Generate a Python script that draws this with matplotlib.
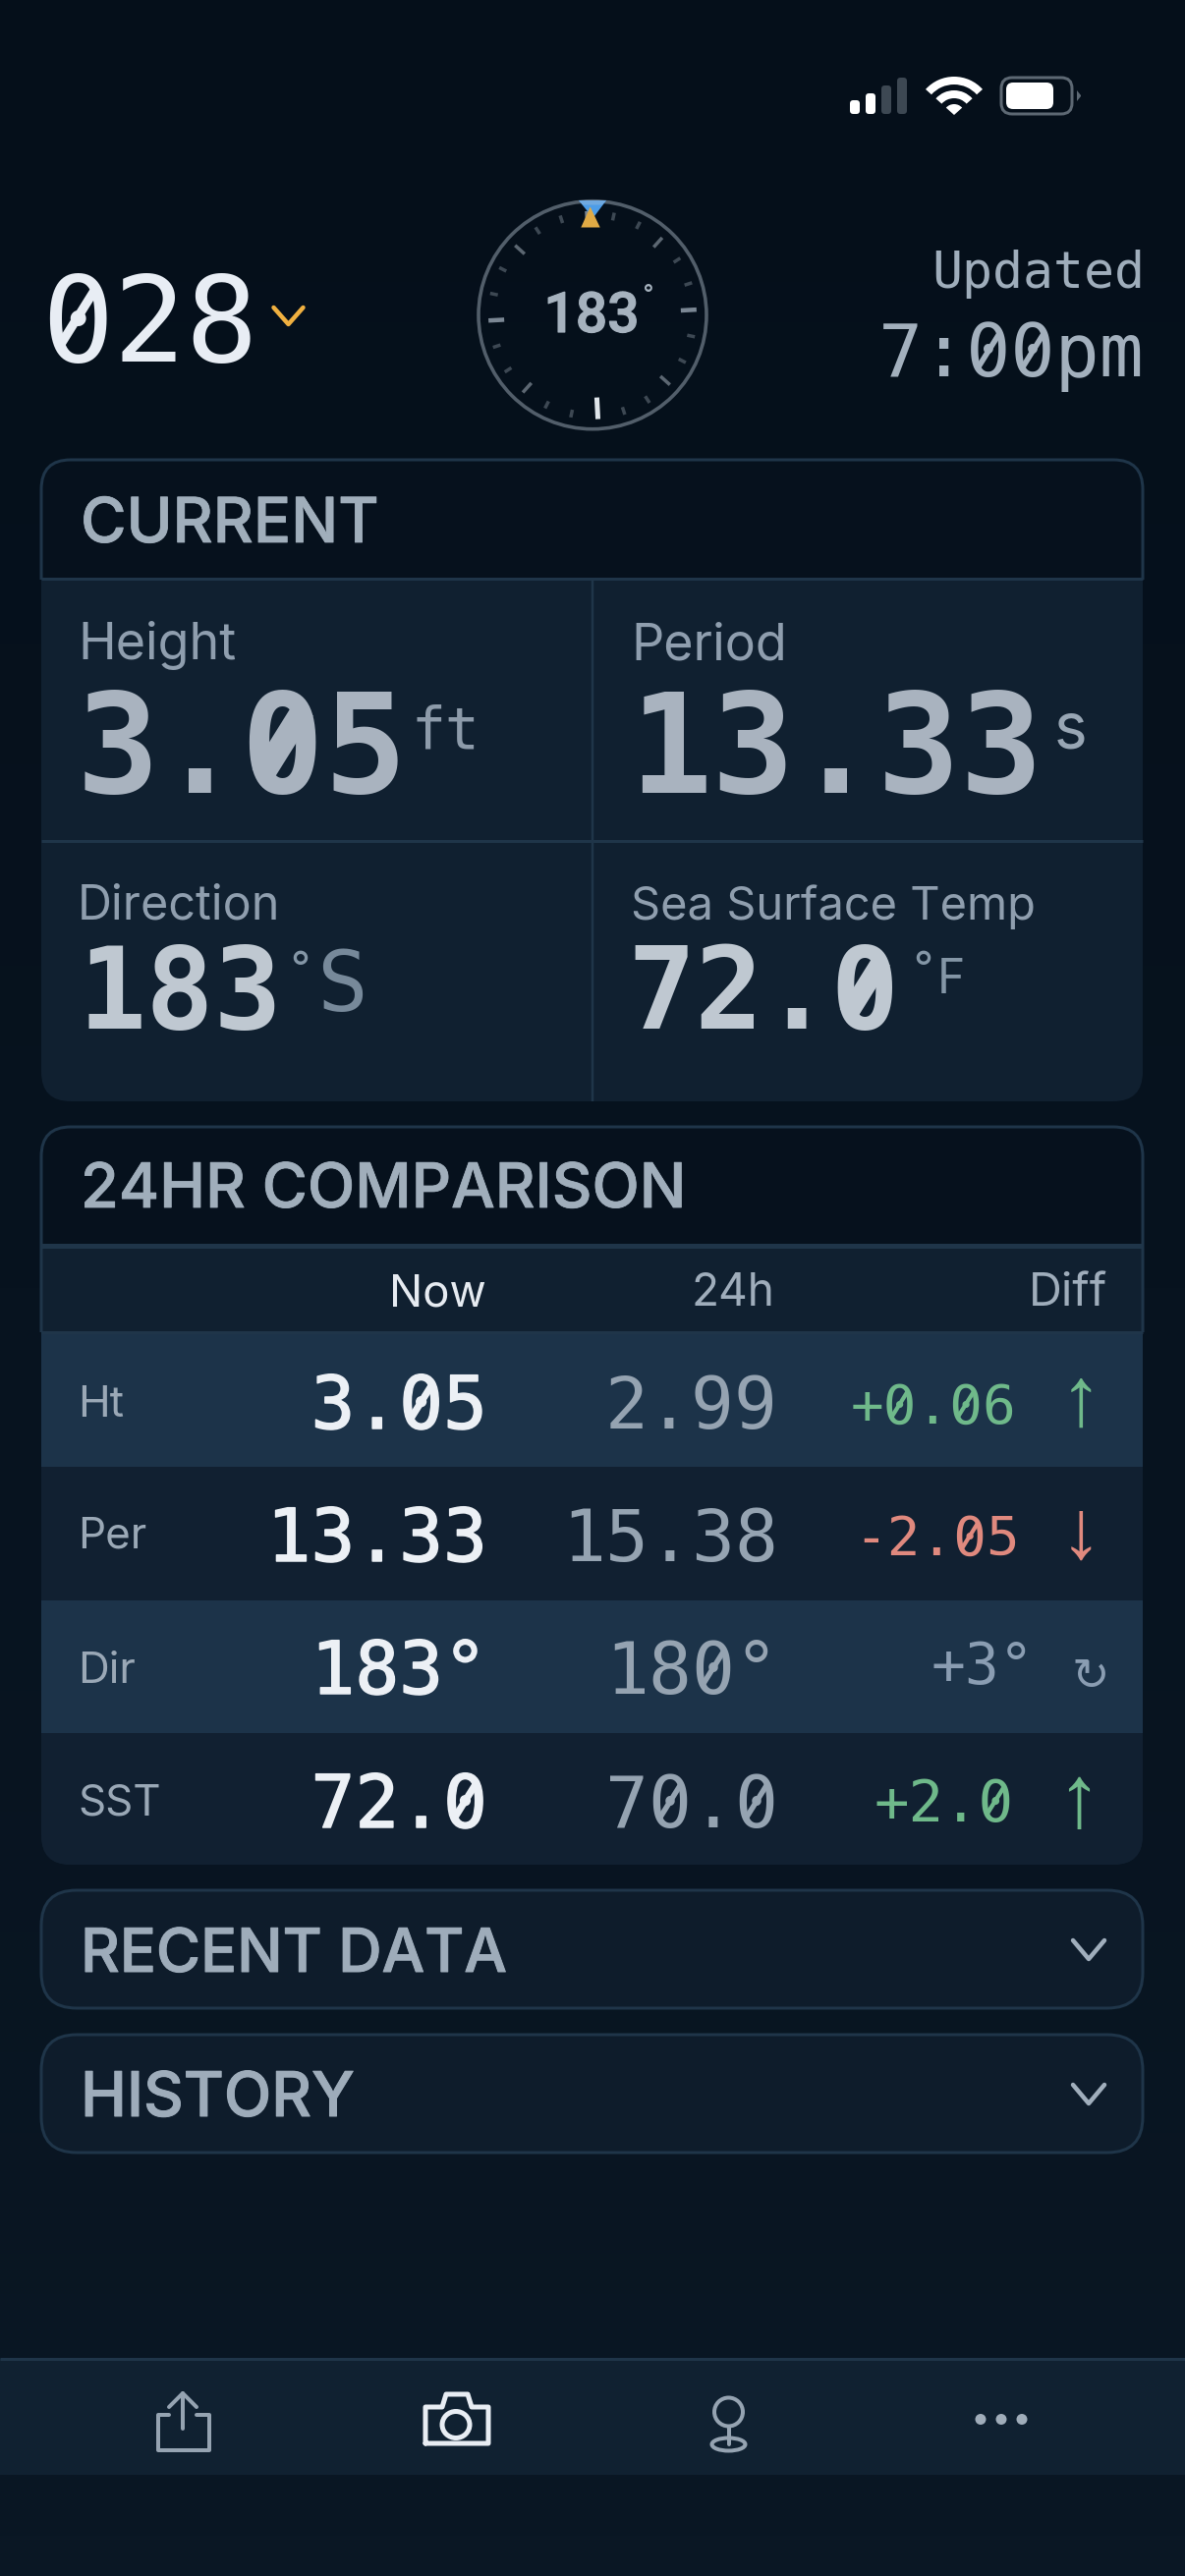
import numpy as np
from matplotlib import pyplot as plt
from matplotlib.colors import LinearSegmentedColormap
from matplotlib.patches import Circle, Ellipse, FancyBboxPatch, Polygon, Rectangle, Wedge
import matplotlib.patheffects as pe

# values
station = "028"
direction_deg = 183
updated_label = "Updated"
updated_time = "7:00pm"

current_labels = ["Height", "Period", "Direction", "Sea Surface Temp"]
current_values = ["3.05", "13.33", "183", "72.0"]
current_units = ["ft", "s", "S", "F"]

row_labels = ["Ht", "Per", "Dir", "SST"]
now_values = ["3.05", "13.33", "183°", "72.0"]
prev_values = ["2.99", "15.38", "180°", "70.0"]
diff_values = ["+0.06", "-2.05", "+3°", "+2.0"]
diff_icons = ["↑", "↓", "↻", "↑"]
col_labels = ["Now", "24h", "Diff"]
collapsed = ["RECENT DATA", "HISTORY"]

compass_steps = np.arange(0, 360, 15)

SANS = "Inter"
MONO = "DejaVu Sans Mono"
ADVANCE = 0.602
BORDER = "#1f3549"
CARD = "#102030"
HEADER = "#06111d"
GREEN = "#6fb98a"
RED = "#e0897e"
GREY = "#95a3b1"

fig = plt.figure(figsize=(12.06, 26.22), dpi=100)
ax = fig.add_axes([0, 0, 1, 1])
ax.axis("off")

bg = LinearSegmentedColormap.from_list("bg", ["#050f1a", "#07131f", "#0a1724"])
ax.imshow(np.linspace(0, 1, 64).reshape(-1, 1), cmap=bg, aspect="auto",
          extent=(0, 1206, 2622, 0), zorder=0)
ax.set_xlim(0, 1206)
ax.set_ylim(2622, 0)


def txt(x, y, s, px, color, ha="left", family=SANS, weight="normal", thick=0, z=5):
    t = ax.text(x, y, s, fontsize=px * 0.72, color=color, ha=ha, va="baseline",
                family=family, weight=weight, zorder=z)
    if thick:
        t.set_path_effects([pe.withStroke(linewidth=thick * 0.72, foreground=color)])
    if family == MONO:
        # the reference face has a slashed zero, dejavu only a dot
        x0 = x - len(s) * ADVANCE * px if ha == "right" else x
        stroke = 0.17 * px if weight == "bold" else 0.075 * px + thick
        for i, ch in enumerate(s):
            if ch == "0":
                gx = x0 + (i + 0.5) * ADVANCE * px
                gy = y - 0.365 * px
                ax.plot([gx - 0.15 * px, gx + 0.15 * px], [gy + 0.24 * px, gy - 0.24 * px],
                        color=color, lw=stroke * 0.72, zorder=z, solid_capstyle="butt")
    return t


def box(x0, y0, x1, y1, r, fc, ec="none", lw=0, z=2):
    p = FancyBboxPatch((x0, y0), x1 - x0, y1 - y0, boxstyle=f"round,pad=0,rounding_size={r}",
                       fc=fc, ec=ec, lw=lw * 0.72, zorder=z)
    ax.add_patch(p)
    return p


def line(xs, ys, color, lw, z=4, cap="round"):
    ax.plot(xs, ys, color=color, lw=lw * 0.72, zorder=z, solid_capstyle=cap,
            solid_joinstyle="round")


def band(card, y0, y1, color, z=3):
    r = Rectangle((42, y0), 1121, y1 - y0, fc=color, ec="none", zorder=z)
    ax.add_patch(r)
    r.set_clip_path(card)


def chevron(cx, y0, y1, half, color, lw):
    line([cx - half, cx, cx + half], [y0, y1, y0], color, lw)


# status bar
for x0, top, col in zip([865, 881, 897, 913], [102, 95, 87, 79],
                        ["#ffffff", "#ffffff", "#3d4853", "#3d4853"]):
    box(x0, top, x0 + 10, 116, 3.5, col)
for r, w in [(39, 8), (25, 8), (11, 11)]:
    ax.add_patch(Wedge((971, 117), r, 222, 318, width=w, fc="white", ec="none", zorder=4))
box(1019, 79, 1091, 116, 11, "none", "#5d6873", 3)
box(1024, 84, 1072, 111, 7, "white", z=4)
ax.add_patch(Polygon([(1096, 92), (1100, 97), (1100, 98), (1096, 103)], fc="#5d6873", ec="none", zorder=4))

# header row
txt(42, 368, station, 122, "#e8edf4", family=MONO)
chevron(293.5, 313, 330, 15, "#f0b040", 4.5)
txt(1165, 293, updated_label, 51.5, "#9fadbb", ha="right", family=MONO)
txt(1165, 383, updated_time, 75, "#a3b0bd", ha="right", family=MONO)

# compass
cx, cy = 603, 320.7
ax.add_patch(Circle((cx, cy), 116, fc="none", ec="#525e6a", lw=3.6 * 0.72, zorder=3))
for step in compass_steps:
    a = np.radians(step - direction_deg)
    if step == 0:
        r0, r1, col, lw = 84, 106, "#dfe5ea", 5
    elif step % 90 == 0:
        r0, r1, col, lw = 90, 106, "#7b8794", 4.5
    elif step % 45 == 0:
        r0, r1, col, lw = 93, 106, "#5c6772", 3.5
    else:
        r0, r1, col, lw = 98.5, 106.5, "#3d4853", 3.5
    line([cx + r0 * np.sin(a), cx + r1 * np.sin(a)],
         [cy - r0 * np.cos(a), cy - r1 * np.cos(a)], col, lw, cap="butt")
ax.add_patch(Polygon([(cx - 14, 204), (cx + 14, 204), (cx + 0.5, 222)], fc="#4d9de8", ec="none", zorder=5))
ax.add_patch(Polygon([(cx - 14, 204), (cx + 14, 204), (cx + 10, 208.5), (cx - 10, 208.5)], fc="#6fa9e0", ec="none", zorder=5))
ax.add_patch(Polygon([(cx - 2.3, 210.5), (cx + 7.7, 231.5), (cx - 11.7, 231.5)], fc="#e0aa45", ec="none", zorder=6))
txt(602, 338, str(direction_deg), 57, "#a6b2be", ha="center", family="Roboto", weight="medium", thick=1.2)
txt(654, 312, "°", 32, "#a6b2be", family="Roboto")

# CURRENT card
card1 = box(42, 468, 1163, 1121, 30, CARD)
band(card1, 468, 589, HEADER)
box(42, 468, 1163, 1121, 30, "none", BORDER, 3, z=4).set_clip_path(Rectangle((0, 460), 1206, 130, transform=ax.transData))
line([42, 1163], [589, 589], BORDER, 3, cap="butt")
line([42, 1163], [856, 856], BORDER, 3, cap="butt")
line([603, 603], [589, 1121], BORDER, 2.5, cap="butt")
txt(82, 552, "CURRENT", 63.5, "#a0aebb", weight="medium", thick=0.8)

label_xy = [(79, 671), (642, 671), (79, 936), (642, 936)]
label_px = [52, 52, 48.5, 47]
for (x, y), s, px in zip(label_xy, current_labels, label_px):
    txt(x, y, s, px, "#8f9eae")

val_xy = [(77, 807), (640, 807), (80, 1047), (638, 1047)]
for i, ((x, y), s) in enumerate(zip(val_xy, current_values)):
    big = i < 2
    txt(x, y, s, 140 if big else 115, "#a9b3bf" if big else "#bfc8d1", family=MONO, weight="bold")
txt(419, 762, current_units[0], 58, "#8d9baa", family=MONO)
txt(1073, 762, current_units[1], 64, "#98a6b4")
txt(295, 1000, "°", 44, "#8496a6")
txt(322, 1029, current_units[2], 86, "#77899a", family=MONO)
txt(929, 1000, "°", 44, "#8496a6")
txt(954, 1011, current_units[3], 48, "#8496a6")

# 24HR card
card2 = box(42, 1147, 1163, 1898, 30, CARD)
band(card2, 1147, 1268, HEADER)
box(42, 1147, 1163, 1898, 30, "none", BORDER, 3, z=4).set_clip_path(Rectangle((0, 1140), 1206, 216, transform=ax.transData))
line([42, 1163], [1268, 1268], BORDER, 5, cap="butt")
line([42, 1163], [1356, 1356], BORDER, 3, cap="butt")
txt(82, 1229, "24HR COMPARISON", 63, "#a0aebb", weight="medium", thick=0.8)

row_edges = [1356, 1493, 1629, 1764, 1898]
row_fill = ["#1c3349", "#112031", "#1c3349", "#112031"]
for y0, y1, col in zip(row_edges[:-1], row_edges[1:], row_fill):
    band(card2, y0, y1, col)

for x, s, col, px in zip([495, 788, 1127], col_labels, ["#e6ebf1", "#9fadbb", "#9fadbb"], [45.5, 46, 47]):
    txt(x, 1329, s, px, col, ha="right")

label_base = [1442, 1576, 1713, 1847]
value_base = [1454, 1589, 1724, 1860]
diff_base = [1449, 1583, 1714, 1854]
diff_right = [1034, 1038, 1052, 1031]
diff_px = [56, 56, 58, 59]
diff_col = [GREEN, RED, "#8a9db2", GREEN]
icon_x = [1100, 1100, 1110, 1098]
icon_base = [1451, 1586, 1720, 1859]
icon_px = [85, 85, 46, 90]
for i in range(4):
    txt(79, label_base[i], row_labels[i], 44, "#9aa8b6")
    txt(496, value_base[i], now_values[i], 74.5, "#ecf0f5", ha="right", family=MONO, thick=1.5)
    txt(792, value_base[i], prev_values[i], 73, GREY, ha="right", family=MONO)
    txt(diff_right[i], diff_base[i], diff_values[i], diff_px[i], diff_col[i], ha="right", family=MONO)
    txt(icon_x[i], icon_base[i], diff_icons[i], icon_px[i], diff_col[i], ha="center",
        family=["Liberation Sans", "DejaVu Sans"])

# collapsed cards
for (y0, y1), base, s, px in zip([(1924, 2044), (2071, 2191)], [2007, 2154], collapsed, [61.5, 63]):
    box(42, y0, 1163, y1, 36, "#0e1c2b", BORDER, 3)
    txt(82, base, s, px, "#9eacba", weight="medium", thick=1)
    chevron(1108, y0 + 51, y0 + 70, 16, "#a0aebc", 4.5)

# bottom bar
ax.add_patch(Rectangle((0, 2401), 1206, 118, fc="#102131", ec="none", zorder=2))
line([0, 1206], [2401, 2401], BORDER, 3, cap="butt")

line([172, 161, 161, 213, 213, 200], [2458, 2458, 2494, 2494, 2458, 2458], GREY, 4)
line([186, 186], [2436, 2472], GREY, 4)
line([172, 186, 200], [2450, 2436, 2450], GREY, 4)

WHITE = "#e8edf3"
line([433, 433, 450, 454, 476, 480, 497, 497, 433],
     [2487, 2450, 2450, 2437, 2437, 2450, 2450, 2487, 2487], WHITE, 5)
ax.add_patch(Ellipse((464, 2468), 28, 27, fc="none", ec=WHITE, lw=5 * 0.72, zorder=4))

ax.add_patch(Circle((741.5, 2455), 14.5, fc="none", ec=GREY, lw=4 * 0.72, zorder=4))
line([741.5, 741.5], [2470, 2488], GREY, 4)
ax.add_patch(Ellipse((741.5, 2488), 34, 13, fc="none", ec=GREY, lw=4 * 0.72, zorder=4))

for x in [998, 1019, 1040]:
    ax.add_patch(Circle((x, 2462.5), 5.5, fc="#a0adba", ec="none", zorder=4))

fig.savefig("out.png", dpi=100, facecolor="#06111d")
